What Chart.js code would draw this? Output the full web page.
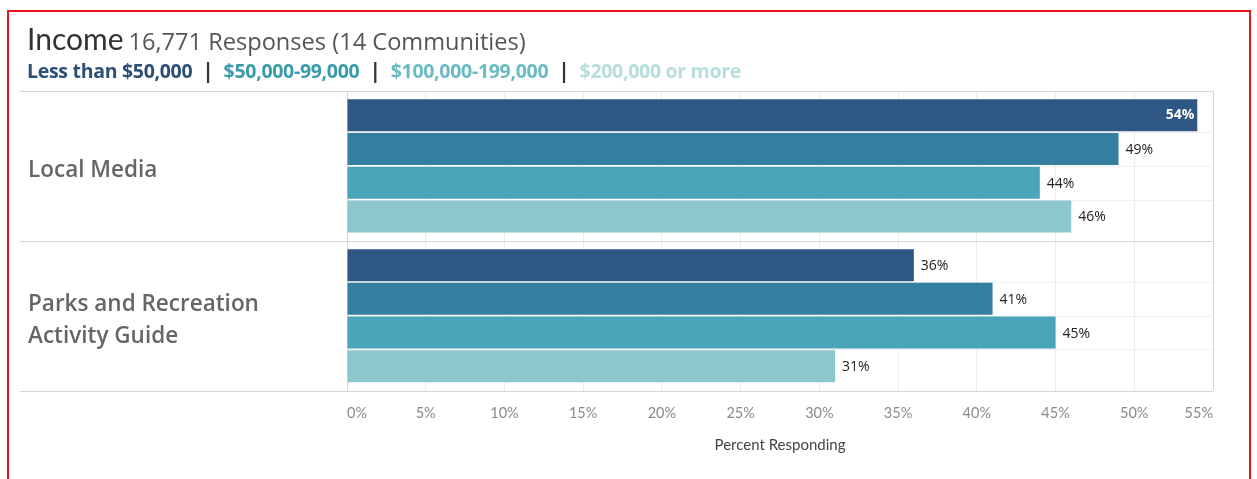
<!DOCTYPE html>
<html>
<head>
<meta charset="utf-8">
<script src="https://cdn.jsdelivr.net/npm/chart.js@4/dist/chart.umd.min.js"></script>
<style>
  body { margin: 0; background: #fff; }
  #wrap { position: relative; width: 1257px; height: 479px; overflow: hidden; }
  #frame { position: absolute; left: 7px; top: 10px; width: 1244px; height: 500px;
           border: 2px solid #e8141b; box-sizing: border-box; }
  #head { position: absolute; left: 27px; top: 20px; white-space: nowrap; }
  #head .big { font-family: Lato, sans-serif; font-size: 30px; color: #333; }
  #head .sub { font-family: "Open Sans", sans-serif; font-size: 23.6px; color: #555; margin-left: 1px; }
  #legend { position: absolute; left: 27px; top: 56px; font-family: "Open Sans", sans-serif; font-weight: 700;
            font-size: 19.5px; white-space: nowrap; letter-spacing: -0.3px; }
  #legend .sep { color: #333; font-weight: 700; font-size: 21px; margin: 0 10px; }
  canvas { position: absolute; left: 0; top: 0; }
</style>
</head>
<body>
<div id="wrap">
  <canvas id="chart" width="1257" height="479"></canvas>
  <div id="frame"></div>
  <div id="head"><span class="big">Income</span> <span class="sub">16,771 Responses (14 Communities)</span></div>
  <div id="legend"></div>
</div>
<script>
// categories and series
const categories = ['Local Media', ['Parks and Recreation', 'Activity Guide']];
const seriesNames = ['Less than $50,000', '$50,000-99,000', '$100,000-199,000', '$200,000 or more'];
const under50k = [54, 36];
const from50to99k = [49, 41];
const from100to199k = [44, 45];
const over200k = [46, 31];
const xTicks = [0, 5, 10, 15, 20, 25, 30, 35, 40, 45, 50, 55];

const barColors = ['#2e5784', '#347ea0', '#4aa4ba', '#8cc7ce'];
const legendColors = ['#2c4f76', '#3a9bab', '#6bbac4', '#b6dedd'];

// header legend built from the series names
let legend = document.getElementById('legend');
legend.innerHTML = seriesNames.map((n, i) =>
  '<span style="color:' + legendColors[i] + '">' + n + '</span>'
).join('<span class="sep">|</span>');

// lines between rows, group separators and the right edge of the pane
const rowLines = {
  id: 'rowLines',
  beforeDatasetsDraw(chart) {
    let ctx = chart.ctx, area = chart.chartArea;
    let metas = chart.data.datasets.map((d, i) => chart.getDatasetMeta(i));
    ctx.save();
    ctx.lineWidth = 1;
    ctx.strokeStyle = '#efefef';
    for (let c = 0; c < categories.length; c++) {
      for (let s = 0; s < metas.length - 1; s++) {
        let a = metas[s].data[c], b = metas[s + 1].data[c];
        let y = Math.round((a.y + a.height / 2 + b.y - b.height / 2) / 2) + 0.5;
        ctx.beginPath(); ctx.moveTo(area.left, y); ctx.lineTo(area.right, y); ctx.stroke();
      }
    }
    ctx.strokeStyle = '#d6d6d6';
    let yScale = chart.scales.y;
    let bounds = [area.top];
    for (let c = 1; c < categories.length; c++) {
      bounds.push((yScale.getPixelForValue(c - 1) + yScale.getPixelForValue(c)) / 2);
    }
    bounds.push(area.bottom);
    bounds.forEach(y => {
      y = Math.round(y) + 0.5;
      ctx.beginPath(); ctx.moveTo(20, y); ctx.lineTo(area.right, y); ctx.stroke();
    });
    ctx.beginPath();
    ctx.moveTo(Math.round(area.right) + 0.5, area.top);
    ctx.lineTo(Math.round(area.right) + 0.5, area.bottom);
    ctx.stroke();
    ctx.restore();
  }
};

// value labels at the end of each bar
const valueLabels = {
  id: 'valueLabels',
  afterDatasetsDraw(chart) {
    let ctx = chart.ctx, area = chart.chartArea;
    ctx.save();
    ctx.textBaseline = 'middle';
    chart.data.datasets.forEach((ds, i) => {
      chart.getDatasetMeta(i).data.forEach((bar, j) => {
        let txt = ds.data[j] + '%';
        ctx.font = '14px "Open Sans", sans-serif';
        let w = ctx.measureText(txt).width;
        if (bar.x + 6 + w > area.right) {
          ctx.font = 'bold 14px "Open Sans", sans-serif';
          ctx.fillStyle = '#fff';
          ctx.textAlign = 'right';
          ctx.fillText(txt, bar.x - 3, bar.y);
        } else {
          ctx.fillStyle = '#222';
          ctx.textAlign = 'left';
          ctx.fillText(txt, bar.x + 7, bar.y + 1);
        }
      });
    });
    ctx.restore();
  }
};

new Chart(document.getElementById('chart'), {
  type: 'bar',
  data: {
    labels: categories,
    datasets: [under50k, from50to99k, from100to199k, over200k].map((vals, i) => ({
      label: seriesNames[i],
      data: vals,
      backgroundColor: barColors[i],
      categoryPercentage: 0.9,
      barPercentage: 0.95
    }))
  },
  options: {
    indexAxis: 'y',
    responsive: false,
    animation: false,
    layout: { padding: { top: 91, left: 28, right: 44, bottom: 25 } },
    plugins: { legend: { display: false }, tooltip: { enabled: false } },
    scales: {
      x: {
        min: 0, max: 55,
        afterBuildTicks: scale => { scale.ticks = xTicks.map(v => ({ value: v })); },
        grid: {
          color: ctx => (ctx.tick && (ctx.tick.value === 0)) ? '#d6d6d6' : '#ececec',
          drawTicks: false
        },
        border: { display: false },
        ticks: {
          align: 'inner',
          padding: 14,
          color: '#8a8a8a',
          font: { family: 'Lato, sans-serif', size: 14.5 },
          callback: v => v + '%'
        },
        title: {
          display: true,
          text: 'Percent Responding',
          color: '#444',
          font: { family: 'Lato, sans-serif', size: 15 },
          padding: { top: 0, bottom: 0 }
        }
      },
      y: {
        grid: { display: false },
        border: { display: false },
        afterFit: scale => { scale.width = 319; },
        ticks: {
          crossAlign: 'far',
          labelOffset: 5,
          color: '#666',
          font: { family: '"Open Sans", sans-serif', size: 22.5, weight: '600', lineHeight: 1.43 }
        }
      }
    }
  },
  plugins: [rowLines, valueLabels]
});
</script>
</body>
</html>
